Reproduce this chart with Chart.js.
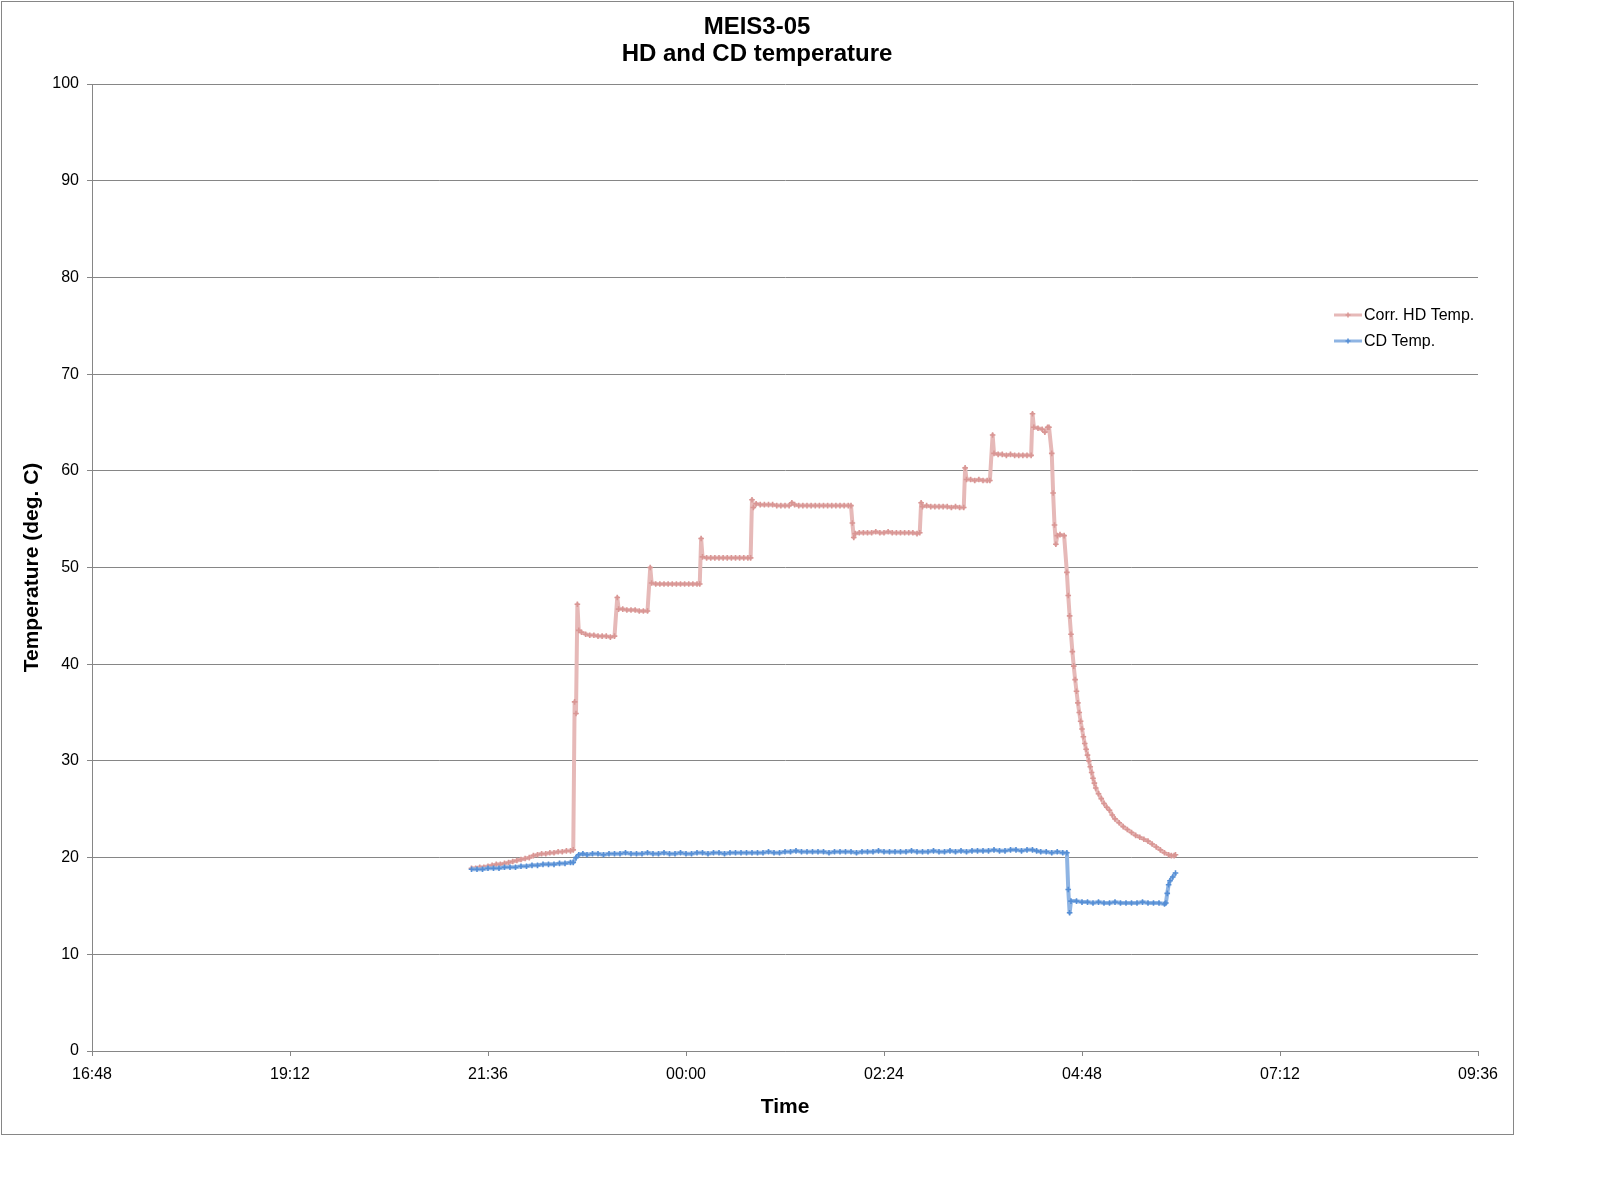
<!DOCTYPE html>
<html>
<head>
<meta charset="utf-8">
<title>MEIS3-05 HD and CD temperature</title>
<script src="https://cdn.jsdelivr.net/npm/chart.js@4.4.1/dist/chart.umd.min.js"></script>
<style>
    html, body { margin: 0; padding: 0; background: #fff; }
    #chart { display: block; }
</style>
</head>
<body>
<canvas id="chart" width="1598" height="1202"></canvas>
<script>
// ---- data ----
const chartTitle = ['MEIS3-05', 'HD and CD temperature'];
const xTitle = 'Time';
const yTitle = 'Temperature (deg. C)';
const seriesNames = ['Corr. HD Temp.', 'CD Temp.'];

// x axis runs 16:48 -> 09:36 (next day), tick every 2h24
const xTickLabels = ['16:48', '19:12', '21:36', '00:00', '02:24', '04:48', '07:12', '09:36'];
const yTickLabels = [0, 10, 20, 30, 40, 50, 60, 70, 80, 90, 100];

const hdTimes = [
    '21:24','21:27','21:30','21:33','21:36','21:39','21:42','21:45','21:48','21:51',
    '21:54','21:57','22:00','22:03','22:06','22:09','22:12','22:15','22:18','22:21',
    '22:24','22:27','22:30','22:33','22:36','22:38','22:39','22:40','22:41','22:42',
    '22:44','22:47','22:50','22:53','22:56','22:59','23:02','23:05','23:08','23:10',
    '23:11','23:14','23:17','23:20','23:23','23:26','23:29','23:32','23:34','23:35',
    '23:38','23:41','23:44','23:47','23:50','23:53','23:56','23:59','00:02','00:05',
    '00:08','00:10','00:11','00:12','00:15','00:18','00:21','00:24','00:27','00:30',
    '00:33','00:36','00:39','00:42','00:45','00:47','00:48','00:49','00:51','00:54',
    '00:57','01:00','01:03','01:06','01:09','01:12','01:15','01:17','01:19','01:22',
    '01:25','01:28','01:31','01:34','01:37','01:40','01:43','01:46','01:49','01:52',
    '01:55','01:58','02:00','02:01','02:02','02:03','02:06','02:09','02:12','02:15',
    '02:18','02:21','02:24','02:27','02:30','02:33','02:36','02:39','02:42','02:45',
    '02:48','02:50','02:51','02:52','02:55','02:58','03:01','03:04','03:07','03:10',
    '03:13','03:16','03:19','03:22','03:23','03:24','03:27','03:30','03:33','03:36',
    '03:39','03:41','03:43','03:44','03:47','03:50','03:53','03:56','03:59','04:02',
    '04:05','04:08','04:11','04:12','04:13','04:16','04:19','04:21','04:23','04:24',
    '04:26','04:27','04:28','04:29','04:30','04:32','04:35','04:37','04:38','04:39',
    '04:40','04:41','04:42','04:43','04:44','04:45','04:46','04:47','04:48','04:49',
    '04:50','04:51','04:52','04:53','04:54','04:55','04:56','04:57','04:58','05:00',
    '05:02','05:04','05:06','05:08','05:10','05:12','05:15','05:18','05:21','05:24',
    '05:27','05:30','05:33','05:36','05:39','05:42','05:45','05:48','05:51','05:53',
    '05:55','05:56'
];
const hdValues = [
    18.9, 18.9, 19.0, 19.0, 19.1, 19.2, 19.3, 19.3, 19.4, 19.5,
    19.6, 19.7, 19.8, 19.9, 20.0, 20.2, 20.3, 20.4, 20.4, 20.5,
    20.5, 20.6, 20.6, 20.7, 20.7, 20.8, 36.1, 34.9, 46.2, 43.5,
    43.3, 43.1, 43.0, 43.0, 42.9, 42.9, 42.9, 42.8, 42.9, 46.9,
    45.7, 45.7, 45.6, 45.6, 45.6, 45.5, 45.5, 45.5, 50.0, 48.4,
    48.3, 48.3, 48.3, 48.3, 48.3, 48.3, 48.3, 48.3, 48.3, 48.3,
    48.3, 48.3, 53.0, 51.1, 51.0, 51.0, 51.0, 51.0, 51.0, 51.0,
    51.0, 51.0, 51.0, 51.0, 51.0, 51.0, 57.0, 56.2, 56.6, 56.5,
    56.5, 56.5, 56.5, 56.4, 56.4, 56.4, 56.4, 56.7, 56.5, 56.4,
    56.4, 56.4, 56.4, 56.4, 56.4, 56.4, 56.4, 56.4, 56.4, 56.4,
    56.4, 56.4, 56.4, 54.6, 53.1, 53.5, 53.6, 53.6, 53.6, 53.6,
    53.7, 53.6, 53.6, 53.7, 53.6, 53.6, 53.6, 53.6, 53.6, 53.6,
    53.5, 53.6, 56.7, 56.3, 56.4, 56.3, 56.3, 56.3, 56.3, 56.3,
    56.2, 56.3, 56.2, 56.2, 60.3, 59.1, 59.1, 59.0, 59.1, 59.0,
    59.0, 59.0, 63.7, 61.8, 61.7, 61.7, 61.6, 61.7, 61.6, 61.6,
    61.6, 61.6, 61.6, 65.9, 64.5, 64.4, 64.3, 64.0, 64.5, 64.5,
    61.8, 57.7, 54.4, 52.4, 53.3, 53.4, 53.3, 49.5, 47.1, 45.0,
    43.1, 41.3, 39.8, 38.4, 37.2, 36.0, 35.0, 34.1, 33.3, 32.5,
    31.8, 31.2, 30.6, 30.0, 29.4, 28.8, 28.2, 27.7, 27.2, 26.6,
    26.1, 25.6, 25.2, 24.9, 24.4, 24.0, 23.6, 23.2, 22.9, 22.6,
    22.3, 22.1, 21.9, 21.7, 21.4, 21.1, 20.8, 20.5, 20.3, 20.2,
    20.2, 20.3
];

const cdTimes = [
    '21:24','21:28','21:32','21:36','21:40','21:44','21:48','21:52','21:56','22:00',
    '22:04','22:08','22:12','22:16','22:20','22:24','22:28','22:32','22:36','22:38',
    '22:40','22:42','22:45','22:48','22:52','22:56','23:00','23:04','23:08','23:12',
    '23:16','23:20','23:24','23:28','23:32','23:36','23:40','23:44','23:48','23:52',
    '23:56','00:00','00:04','00:08','00:12','00:16','00:20','00:24','00:28','00:32',
    '00:36','00:40','00:44','00:48','00:52','00:56','01:00','01:04','01:08','01:12',
    '01:16','01:20','01:24','01:28','01:32','01:36','01:40','01:44','01:48','01:52',
    '01:56','02:00','02:04','02:08','02:12','02:16','02:20','02:24','02:28','02:32',
    '02:36','02:40','02:44','02:48','02:52','02:56','03:00','03:04','03:08','03:12',
    '03:16','03:20','03:24','03:28','03:32','03:36','03:40','03:44','03:48','03:52',
    '03:56','04:00','04:04','04:08','04:12','04:15','04:18','04:22','04:26','04:30',
    '04:34','04:37','04:38','04:39','04:40','04:44','04:48','04:52','04:56','05:00',
    '05:04','05:08','05:12','05:16','05:20','05:24','05:28','05:32','05:36','05:40',
    '05:44','05:48','05:49','05:50','05:51','05:52','05:54','05:56'
];
const cdValues = [
    18.8, 18.8, 18.8, 18.9, 18.9, 18.9, 19.0, 19.0, 19.0, 19.1,
    19.1, 19.2, 19.2, 19.3, 19.3, 19.3, 19.4, 19.4, 19.5, 19.5,
    20.0, 20.3, 20.4, 20.3, 20.4, 20.4, 20.3, 20.4, 20.4, 20.4,
    20.5, 20.4, 20.4, 20.4, 20.5, 20.4, 20.4, 20.5, 20.4, 20.4,
    20.5, 20.4, 20.4, 20.5, 20.5, 20.4, 20.5, 20.5, 20.4, 20.5,
    20.5, 20.5, 20.5, 20.5, 20.5, 20.5, 20.6, 20.5, 20.5, 20.6,
    20.6, 20.7, 20.6, 20.6, 20.6, 20.6, 20.6, 20.5, 20.6, 20.6,
    20.6, 20.6, 20.5, 20.6, 20.6, 20.6, 20.7, 20.6, 20.6, 20.6,
    20.6, 20.6, 20.7, 20.6, 20.6, 20.6, 20.7, 20.6, 20.6, 20.7,
    20.6, 20.7, 20.6, 20.7, 20.7, 20.7, 20.7, 20.8, 20.7, 20.7,
    20.8, 20.8, 20.7, 20.8, 20.8, 20.7, 20.6, 20.6, 20.5, 20.6,
    20.5, 20.5, 16.7, 14.3, 15.5, 15.5, 15.4, 15.4, 15.3, 15.4,
    15.3, 15.3, 15.4, 15.3, 15.3, 15.3, 15.3, 15.4, 15.3, 15.3,
    15.3, 15.2, 15.3, 16.3, 17.2, 17.6, 18.0, 18.4
];

const hdLine = '#E6B9B8', hdMark = '#D99694';
const cdLine = '#8EB4E3', cdMark = '#558ED5';
const axisGrey = '#868686';
const fontFam = "'Liberation Sans', Arial, sans-serif";

// "HH:MM" -> minutes, times before noon belong to the next day
const toMin = (t) => {
    const [h, m] = t.split(':').map(Number);
    return (h < 12 ? h + 24 : h) * 60 + m;
};
const fmtMin = (v) => {
    const m = ((v % 1440) + 1440) % 1440;
    const h = Math.floor(m / 60), mm = Math.round(m % 60);
    return String(h).padStart(2, '0') + ':' + String(mm).padStart(2, '0');
};
const toPoints = (times, vals) => times.map((t, i) => ({ x: toMin(t), y: vals[i] }));

const xMin = toMin(xTickLabels[0]);
const xMax = toMin(xTickLabels[xTickLabels.length - 1]);

// frame, titles and legend drawn straight onto the canvas
const decorPlugin = {
    id: 'decor',
    beforeDraw(chart) {
        const c = chart.ctx;
        c.save();
        c.fillStyle = '#fff';
        c.fillRect(0, 0, chart.width, chart.height);
        c.strokeStyle = axisGrey;
        c.lineWidth = 1;
        c.strokeRect(1.5, 1.5, 1512, 1133);
        c.restore();
    },
    afterDraw(chart) {
        const c = chart.ctx;
        const area = chart.chartArea;
        c.save();
        c.fillStyle = '#000';
        c.textAlign = 'center';
        c.textBaseline = 'middle';
        c.font = 'bold 24px ' + fontFam;
        c.fillText(chartTitle[0], 757, 27);
        c.fillText(chartTitle[1], 757, 54);

        c.font = 'bold 21px ' + fontFam;
        c.fillText(xTitle, (area.left + area.right) / 2, 1107);
        c.save();
        c.translate(32, (area.top + area.bottom) / 2);
        c.rotate(-Math.PI / 2);
        c.fillText(yTitle, 0, 0);
        c.restore();

        // legend
        const items = [
            { name: seriesNames[0], line: hdLine, mark: hdMark, y: 315 },
            { name: seriesNames[1], line: cdLine, mark: cdMark, y: 341 }
        ];
        c.font = '16px ' + fontFam;
        c.textAlign = 'left';
        items.forEach(it => {
            c.strokeStyle = it.line;
            c.lineWidth = 3;
            c.beginPath();
            c.moveTo(1334, it.y);
            c.lineTo(1362, it.y);
            c.stroke();
            c.strokeStyle = it.mark;
            c.lineWidth = 1.5;
            c.beginPath();
            c.moveTo(1345.5, it.y); c.lineTo(1350.5, it.y);
            c.moveTo(1348, it.y - 2.5); c.lineTo(1348, it.y + 2.5);
            c.stroke();
            c.fillStyle = '#000';
            c.fillText(it.name, 1364, it.y + 1);
        });
        c.restore();
    }
};

const ctx = document.getElementById('chart');
new Chart(ctx, {
    type: 'scatter',
    data: {
        datasets: [{
            label: seriesNames[0],
            data: toPoints(hdTimes, hdValues),
            showLine: true,
            borderColor: hdLine,
            borderWidth: 4,
            borderJoinStyle: 'round',
            pointStyle: 'cross',
            pointRadius: 2.8,
            pointBorderWidth: 1.6,
            pointBorderColor: hdMark,
            pointBackgroundColor: hdMark,
            tension: 0,
            order: 1
        }, {
            label: seriesNames[1],
            data: toPoints(cdTimes, cdValues),
            showLine: true,
            borderColor: cdLine,
            borderWidth: 4,
            borderJoinStyle: 'round',
            pointStyle: 'cross',
            pointRadius: 2.8,
            pointBorderWidth: 1.6,
            pointBorderColor: cdMark,
            pointBackgroundColor: cdMark,
            tension: 0,
            order: 0
        }]
    },
    options: {
        responsive: false,
        animation: false,
        devicePixelRatio: 1,
        layout: { padding: { left: 0, top: 84, right: 120, bottom: 91 } },
        plugins: {
            legend: { display: false },
            title: { display: false },
            tooltip: { enabled: false }
        },
        scales: {
            x: {
                type: 'linear',
                min: xMin,
                max: xMax,
                afterFit: (s) => { s.height = 60; },
                afterBuildTicks: (s) => {
                    s.ticks = xTickLabels.map(t => ({ value: toMin(t) }));
                },
                grid: { drawOnChartArea: false, drawTicks: true, tickLength: 5, color: axisGrey },
                border: { display: true, color: axisGrey },
                ticks: {
                    padding: 9,
                    maxRotation: 0,
                    autoSkip: false,
                    color: '#000',
                    font: { family: fontFam, size: 16 },
                    callback: (v) => fmtMin(v)
                }
            },
            y: {
                min: yTickLabels[0],
                max: yTickLabels[yTickLabels.length - 1],
                afterFit: (s) => { s.width = 92; },
                afterBuildTicks: (s) => {
                    s.ticks = yTickLabels.map(v => ({ value: v }));
                },
                grid: { color: axisGrey, tickLength: 5, drawTicks: true },
                border: { display: true, color: axisGrey },
                ticks: {
                    padding: 8,
                    color: '#000',
                    font: { family: fontFam, size: 16 }
                }
            }
        }
    },
    plugins: [decorPlugin]
});
</script>
</body>
</html>
